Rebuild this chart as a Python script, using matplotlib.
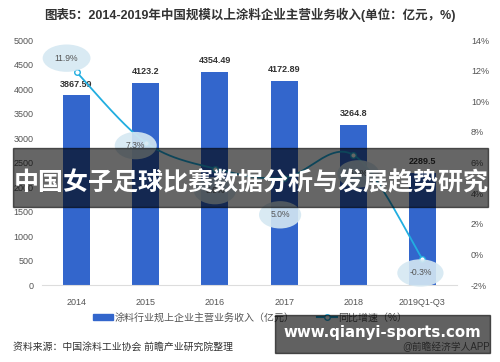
import numpy as np
import matplotlib
matplotlib.use("Agg")
import matplotlib.pyplot as plt
from matplotlib.patches import Rectangle, Patch
from matplotlib.lines import Line2D

plt.rcParams['font.family'] = ['Liberation Sans', 'Noto Sans CJK SC', 'DejaVu Sans']

years = ['2014', '2015', '2016', '2017', '2018', '2019Q1-Q3']
revenue = [3867.59, 4123.2, 4354.49, 4172.89, 3264.8, 2289.5]
growth = [11.9, 7.3, 5.6, 5.0, 6.5, -0.3]
# where each growth label sits relative to its point (pixels)
label_off = [(-10, 14), (-10, -3), (0, -22), (-4, -37), (5, -19), (-2, -14)]

bar_color = '#3366cc'
line_color = '#22aee0'
tick_color = '#555555'

fig = plt.figure(figsize=(5, 3.62), dpi=100)
ax = fig.add_axes([0.084, 0.2127, 0.83, 0.6768])
ax2 = ax.twinx()

x = np.arange(len(years))
ax.bar(x, revenue, width=0.39, color=bar_color, zorder=2)
for xi, v in zip(x, revenue):
    ax.annotate(f'{v:g}', (xi, v), xytext=(0, 8), textcoords='offset points',
                ha='center', va='center', fontsize=6.5, fontweight='bold', color='#333333')

ax.set_xlim(-0.5, len(years) - 0.5)
ax.set_ylim(0, 5000)
ax.set_yticks(np.arange(0, 5001, 500))
ax.set_xticks(x)
ax.set_xticklabels(years)
ax2.set_ylim(-2, 14)
ax2.set_yticks(np.arange(-2, 15, 2))
ax2.set_yticklabels([f'{t}%' for t in range(-2, 15, 2)])

for a in (ax, ax2):
    for s in a.spines.values():
        s.set_visible(False)
    a.tick_params(length=0, labelsize=6.5, labelcolor=tick_color)
ax.spines['bottom'].set_visible(True)
ax.spines['bottom'].set_color('#dddddd')
ax.tick_params(axis='x', pad=9)
ax.tick_params(axis='y', pad=6)
ax2.tick_params(axis='y', pad=10)

# smooth curve through the growth points (Catmull-Rom)
px = np.array(x, dtype=float)
py = np.array(growth, dtype=float)
P = np.column_stack([px, py])
P = np.vstack([P[0], P, P[-1]])
cx, cy = [], []
t = np.linspace(0, 1, 30)
for i in range(1, len(P) - 2):
    p0, p1, p2, p3 = P[i - 1], P[i], P[i + 1], P[i + 2]
    seg = 0.5 * ((2 * p1) + (-p0 + p2) * t[:, None]
                 + (2 * p0 - 5 * p1 + 4 * p2 - p3) * t[:, None] ** 2
                 + (-p0 + 3 * p1 - 3 * p2 + p3) * t[:, None] ** 3)
    cx.extend(seg[:, 0])
    cy.extend(seg[:, 1])
ax2.plot(cx, cy, color=line_color, lw=1.3, zorder=3)
ax2.plot(px, py, 'o', ms=4, mfc='white', mec=line_color, mew=1.0, zorder=4)

for xi, g, (dx, dy) in zip(px, py, label_off):
    ax2.annotate(f'{g}%', (xi, g), xytext=(dx * 0.72, dy * 0.72), textcoords='offset points',
                 ha='center', va='center', fontsize=6.2, color='#555555', zorder=5,
                 bbox=dict(boxstyle='ellipse,pad=0.6', fc='#d5e8f2', ec='none', alpha=0.9))

fig.text(0.5, 0.958, '图表5：2014-2019年中国规模以上涂料企业主营业务收入(单位：亿元，%)',
         ha='center', va='center', fontsize=9, fontweight='bold', color='#333333')

handles = [Patch(color=bar_color),
           Line2D([], [], color=line_color, marker='o', ms=4, mfc='white', mec=line_color)]
fig.legend(handles, ['涂料行业规上企业主营业务收入（亿元）', '同比增速（%）'],
           loc='center', bbox_to_anchor=(0.5, 0.122), ncol=2, frameon=False,
           fontsize=7.2, labelcolor='#555555', handlelength=2.0, handleheight=0.6,
           columnspacing=2.2, handletextpad=0.2)

fig.text(0.026, 0.041, '资料来源：中国涂料工业协会 前瞻产业研究院整理',
         ha='left', va='center', fontsize=7.1, color='#333333')
fig.text(0.98, 0.041, '@前瞻经济学人APP', ha='right', va='center', fontsize=7, color='#666666')

# overlay band with headline
fig.patches.append(Rectangle((0.026, 1 - 207 / 362), 0.95, 59 / 362, transform=fig.transFigure,
                             color='black', alpha=0.6, zorder=10))
fig.text(0.502, 1 - 183 / 362, '中国女子足球比赛数据分析与发展趋势研究', ha='center', va='center',
         fontsize=18, fontweight='bold', color='white', zorder=11,
         family=['Noto Sans CJK SC', 'DejaVu Sans'])

# bottom-right site box
fig.patches.append(Rectangle((0.55, 1 - 353 / 362), 0.43, 38 / 362, transform=fig.transFigure,
                             color='black', alpha=0.62, zorder=10))
fig.text(0.765, 1 - 333 / 362, 'www.qianyi-sports.com', ha='center', va='center',
         fontsize=10.8, fontweight='bold', color='white', zorder=11, family='DejaVu Sans')

fig.savefig('out.png', dpi=100)
